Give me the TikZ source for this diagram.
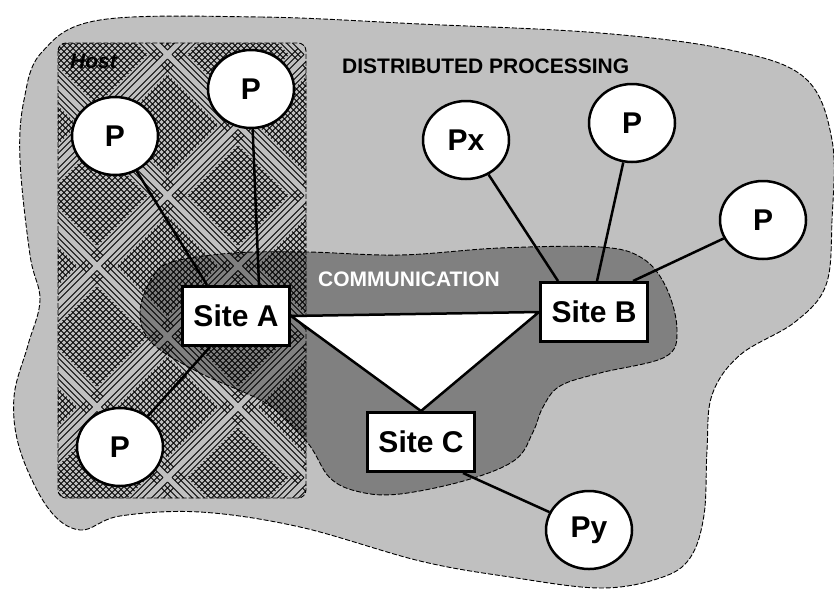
\documentclass[tikz,border=0pt]{standalone}
\usepackage{fontspec}
\setmainfont{Liberation Sans}
\usetikzlibrary{shapes.geometric,backgrounds}
\definecolor{lightg}{HTML}{C0C0C0}
\definecolor{darkg}{HTML}{808080}
\begin{document}
\begin{tikzpicture}[x=1pt,y=-1pt,
  proc/.style={ellipse,draw,fill=white,line width=2.5pt,minimum width=86pt,minimum height=78pt,inner sep=0pt,font=\bfseries\fontsize{30}{36}\selectfont},
  site/.style={rectangle,draw,fill=white,line width=3pt,minimum width=107pt,minimum height=59pt,inner sep=0pt,font=\bfseries\fontsize{30}{36}\selectfont},
  conn/.style={line width=2.5pt},
  region/.style={draw=black,line width=0.9pt,dash pattern=on 5pt off 2pt},
  hatch/.style={line width=0.8pt,black},
  lbl/.style={font=\bfseries\fontsize{21}{25}\selectfont,inner sep=0pt,anchor=base west}]
\useasboundingbox (0,0) rectangle (834,590);

% nodes
\node[site] (siteA) at (236,316) {Site A};
\node[site] (siteB) at (594,312) {Site B};
\node[site] (siteC) at (421,442) {Site C};
\node[proc] (p1) at (115,136) {P};
\node[proc] (p2) at (251,89) {P};
\node[proc] (p3) at (120,447) {P};
\node[proc] (px) at (466,140) {Px};
\node[proc] (p4) at (632,123) {P};
\node[proc] (p5) at (763,220) {P};
\node[proc] (py) at (589,530) {Py};
\node[lbl] (dp) at (342,73) {DISTRIBUTED PROCESSING};
\node[lbl,text=white] (comm) at (318,286) {COMMUNICATION};
\node[lbl,font=\bfseries\itshape\fontsize{21}{25}\selectfont] (host) at (70,68) {Host};

\begin{pgfonlayer}{background}
% outer region
\path[fill=lightg,region] plot[smooth cycle,tension=0.6] coordinates {
 (100,20) (260,17) (420,24) (600,33) (730,50) (805,78) (832,140) (832,220)
 (826,285) (795,322) (740,355) (712,395) (707,450) (704,515) (690,558)
 (660,578) (600,588) (510,577) (420,561) (300,527) (200,512) (120,516)
 (80,530) (48,508) (20,450) (14,397) (28,345) (40,300) (30,255) (20,160)
 (24,100) (42,52)};
% communication region
\path[fill=darkg,region] plot[smooth cycle,tension=0.6] coordinates {
 (152,278) (172,262) (233,253) (307,252) (400,255) (500,248) (600,247)
 (642,258) (666,287) (677,330) (665,357) (600,373) (560,386) (543,407)
 (533,432) (515,460) (467,480) (400,494) (360,492) (330,478) (307,442)
 (267,404) (200,373) (152,343) (140,312)};
% host pattern
\begin{scope}
 \clip[rounded corners=8pt] (58,43) rectangle (306,498);
 \begin{scope}[cm={0.5,-0.5,-0.5,-0.5,(0,0)}]
  \begin{scope}
   \clip \foreach \k in {-4,...,2} {(0,{-28+141*\k+19.5}) -- (1000,{-28+141*\k+19.5}) -- (1000,{-28+141*(\k+1)-19.5}) -- (0,{-28+141*(\k+1)-19.5}) -- cycle}
     \foreach \m in {-1,...,4} {\foreach \k in {-4,...,2} {({222+141*\m-19.5},{-28+141*\k+4.5}) -- ({222+141*\m+19.5},{-28+141*\k+4.5}) -- ({222+141*\m+19.5},{-28+141*(\k+1)-4.5}) -- ({222+141*\m-19.5},{-28+141*(\k+1)-4.5}) -- cycle}};
   \draw[hatch] \foreach \m in {-1,...,4} {\foreach \j in {0,...,22} {({222+141*\m+4.5+6*\j},-700) -- ++(0,1200)}};
  \end{scope}
  \begin{scope}
   \clip \foreach \m in {-1,...,5} {({222+141*\m+19.5},-1000) -- ({222+141*(\m+1)-19.5},-1000) -- ({222+141*(\m+1)-19.5},1000) -- ({222+141*\m+19.5},1000) -- cycle}
     \foreach \k in {-4,...,3} {\foreach \m in {-1,...,4} {({222+141*\m+4.5},{-28+141*\k-19.5}) -- ({222+141*(\m+1)-4.5},{-28+141*\k-19.5}) -- ({222+141*(\m+1)-4.5},{-28+141*\k+19.5}) -- ({222+141*\m+4.5},{-28+141*\k+19.5}) -- cycle}};
   \draw[hatch] \foreach \k in {-4,...,2} {\foreach \j in {0,...,22} {(-200,{-28+141*\k+4.5+6*\j}) -- ++(1300,0)}};
  \end{scope}
 \end{scope}
\end{scope}
\draw[region,rounded corners=8pt] (58,43) rectangle (306,498);
% triangle
\draw[fill=white,line width=2.5pt,line join=round] (siteA.east) -- (siteB.west) -- (siteC.north) -- cycle;
% connectors
\draw[conn] (p1) -- ([xshift=-29pt]siteA.north);
\draw[conn] (p2) -- ([xshift=23pt]siteA.north);
\draw[conn] (p3) -- ([xshift=-26pt]siteA.south);
\draw[conn] (px) -- ([xshift=-36pt]siteB.north);
\draw[conn] (p4) -- ([xshift=3pt]siteB.north);
\draw[conn] (p5) -- ([xshift=39pt]siteB.north);
\draw[conn] (py) -- ([xshift=42pt]siteC.south);
\end{pgfonlayer}
\end{tikzpicture}
\end{document}
